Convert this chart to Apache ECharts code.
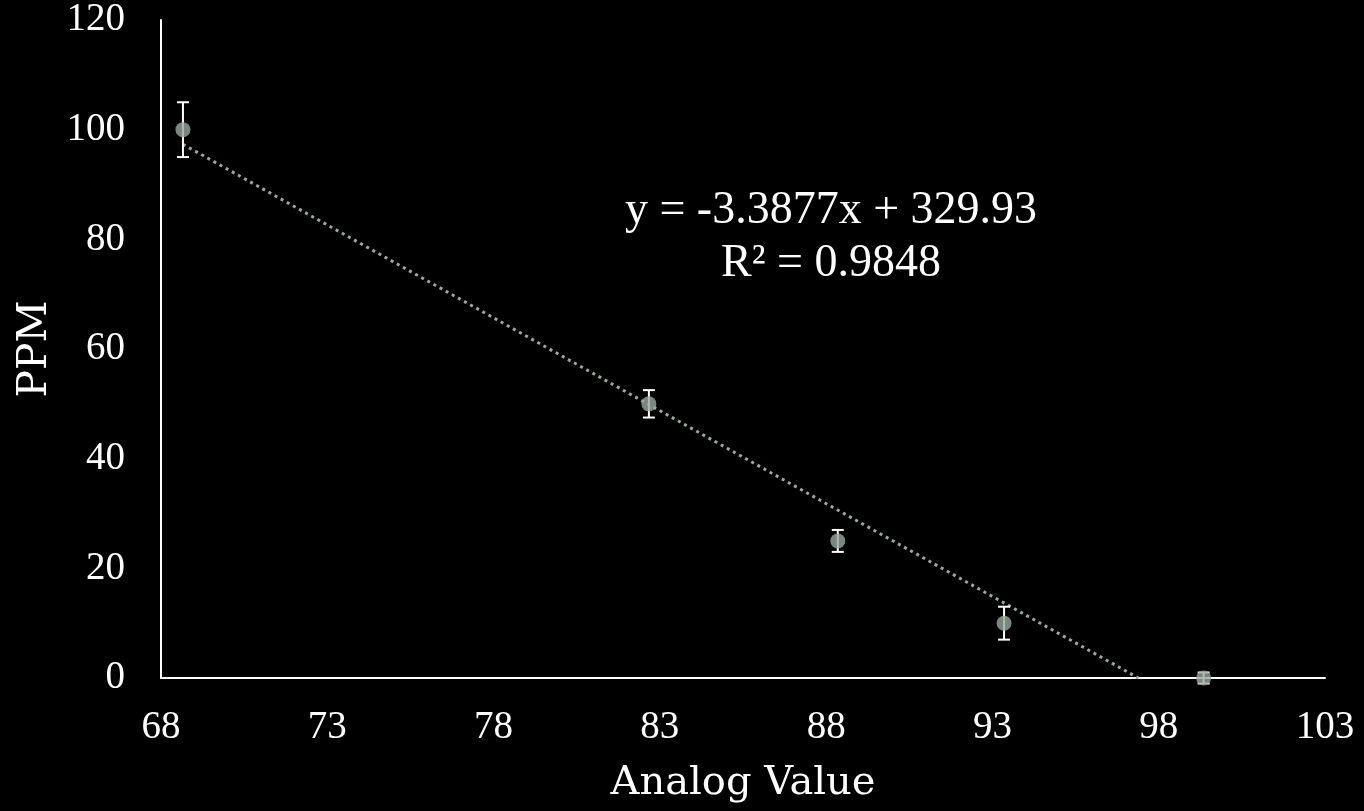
<!DOCTYPE html>
<html>
<head>
<meta charset="utf-8">
<script src="https://cdn.jsdelivr.net/npm/echarts@6/dist/echarts.min.js"></script>
<style>
html,body{margin:0;padding:0;background:#000;}
#chart{width:1364px;height:811px;}
</style>
</head>
<body>
<div id="chart"></div>
<script>
// ---- data ----
const analogValues = [68.66, 82.67, 88.35, 93.35, 99.35];
const ppmValues    = [100, 50, 25, 10, 0];
const ppmErrors    = [5, 2.5, 2, 3, 1];
const trendX = [68.66, 97.39];
const trendY = [97.33, 0];
const equationLines = ['y = -3.3877x + 329.93', 'R² = 0.9848'];
const xTitle = 'Analog Value';
const yTitle = 'PPM';

const markerColor = '#9aa89d';
const numFont = 'Liberation Serif';
const titleFont = 'DejaVu Serif';

const chart = echarts.init(document.getElementById('chart'));
const points = analogValues.map((x, i) => [x, ppmValues[i]]);
const errData = analogValues.map((x, i) => [x, ppmValues[i] - ppmErrors[i], ppmValues[i] + ppmErrors[i]]);

chart.setOption({
  backgroundColor: '#000',
  animation: false,
  grid: {left: 161, right: 39, top: 20, bottom: 133},
  xAxis: {
    type: 'value', min: 68, max: 103, interval: 5,
    axisLine: {show: true, lineStyle: {color: '#fff', width: 2}},
    axisTick: {show: false}, splitLine: {show: false},
    axisLabel: {color: '#fff', fontFamily: numFont, fontSize: 39, margin: 30},
    name: xTitle, nameLocation: 'middle', nameGap: 86,
    nameTextStyle: {color: '#fff', fontFamily: titleFont, fontSize: 40}
  },
  yAxis: {
    type: 'value', min: 0, max: 120, interval: 20,
    axisLine: {show: true, lineStyle: {color: '#fff', width: 2}},
    axisTick: {show: false}, splitLine: {show: false},
    axisLabel: {color: '#fff', fontFamily: numFont, fontSize: 39, margin: 36},
    name: yTitle, nameLocation: 'middle', nameGap: 104,
    nameTextStyle: {color: '#fff', fontFamily: titleFont, fontSize: 41}
  },
  graphic: [
    {type: 'text', x: 831, y: 211, style: {text: equationLines[0], fill: '#fff', font: '46px "' + numFont + '"', textAlign: 'center', textVerticalAlign: 'middle'}},
    {type: 'text', x: 831, y: 264, style: {text: equationLines[1], fill: '#fff', font: '46px "' + numFont + '"', textAlign: 'center', textVerticalAlign: 'middle'}}
  ],
  series: [
    {
      type: 'line', data: trendX.map((x, i) => [x, trendY[i]]), symbol: 'none',
      lineStyle: {color: markerColor, width: 3, type: [3, 4]}, z: 1
    },
    {
      type: 'custom', data: errData, z: 3,
      renderItem: function (params, api) {
        const x = api.value(0);
        const lo = api.coord([x, api.value(1)]);
        const hi = api.coord([x, api.value(2)]);
        const cw = 6;
        const st = {stroke: '#fff', lineWidth: 2};
        return {type: 'group', children: [
          {type: 'line', shape: {x1: lo[0], y1: lo[1], x2: hi[0], y2: hi[1]}, style: st},
          {type: 'line', shape: {x1: lo[0] - cw, y1: lo[1], x2: lo[0] + cw, y2: lo[1]}, style: st},
          {type: 'line', shape: {x1: hi[0] - cw, y1: hi[1], x2: hi[0] + cw, y2: hi[1]}, style: st}
        ]};
      }
    },
    {
      type: 'scatter', data: points, symbolSize: 15, z: 4,
      itemStyle: {color: markerColor}
    }
  ]
});
</script>
</body>
</html>
